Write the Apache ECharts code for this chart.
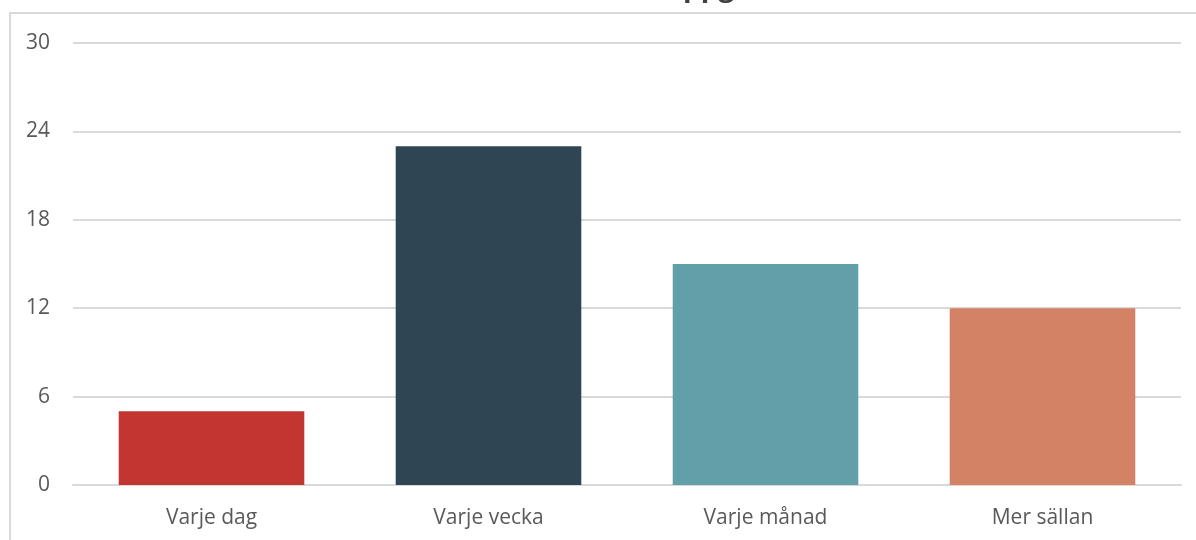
<!DOCTYPE html>
<html>
<head>
<meta charset="utf-8">
<script src="https://cdn.jsdelivr.net/npm/echarts@6/dist/echarts.min.js"></script>
<style>
  html, body { margin: 0; padding: 0; background: #fff; }
  #chart { width: 1196px; height: 540px; }
</style>
</head>
<body>
<div id="chart"></div>
<script>
const categories = ['Varje dag', 'Varje vecka', 'Varje månad', 'Mer sällan']
const values = [5, 23, 15, 12]
const barColors = ['#c23531', '#2f4554', '#61a0a8', '#d48265']
const yTicks = [0, 6, 12, 18, 24, 30]

const chart = echarts.init(document.getElementById('chart'))

chart.setOption({
  animation: false,
  textStyle: { fontFamily: 'Open Sans, sans-serif' },
  grid: { left: 73, right: 15, top: 43, bottom: 55 },
  graphic: [
    {
      type: 'rect',
      shape: { x: 10, y: 13, width: 1200, height: 540 },
      style: { fill: 'none', stroke: '#d9d9d9', lineWidth: 2 },
      silent: true
    },
    {
      type: 'text',
      x: 683,
      y: -26,
      style: { text: 'ppg', font: 'bold 28px "Open Sans", sans-serif', fill: '#404040' },
      silent: true
    }
  ],
  xAxis: {
    type: 'category',
    data: categories,
    axisLine: { lineStyle: { color: '#d9d9d9', width: 2 } },
    axisTick: { show: false },
    axisLabel: { color: '#595959', fontSize: 21, margin: 23 }
  },
  yAxis: {
    type: 'value',
    min: yTicks[0],
    max: yTicks[yTicks.length - 1],
    interval: 6,
    axisLine: { show: false },
    axisTick: { show: false },
    axisLabel: { color: '#595959', fontSize: 21, margin: 23 },
    splitLine: { lineStyle: { color: '#d9d9d9', width: 2 } }
  },
  series: [{
    type: 'bar',
    data: values.map((v, i) => ({ value: v, itemStyle: { color: barColors[i] } })),
    barWidth: '67%'
  }]
})
</script>
</body>
</html>
